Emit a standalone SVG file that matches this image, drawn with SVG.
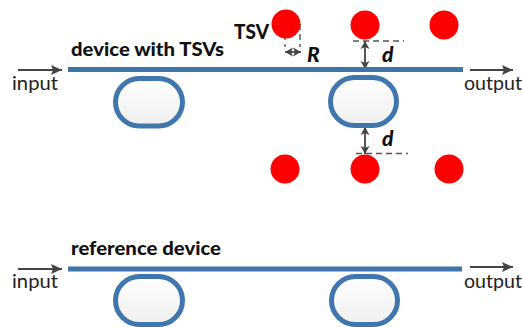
<svg xmlns="http://www.w3.org/2000/svg" width="522" height="327" viewBox="0 0 522 327">
<style>
.wg{stroke:#3f74a8;stroke-width:5;fill:none}
.ring{stroke:#3f76ad;stroke-width:5;fill:url(#rf)}
.tsv{fill:#fe0000}
.lbl{font-family:Lato,"Liberation Sans",sans-serif;font-size:20px;fill:#222}
.b{font-weight:900;fill:#111}
.bi{font-weight:900;font-style:italic;fill:#111;font-size:21px}
.ar{stroke:#444;stroke-width:1.8;fill:none}
.dash{stroke:#555;stroke-width:1.4;stroke-dasharray:6 4;fill:none}
</style>
<defs>
<linearGradient id="rf" x1="0" y1="0" x2="0" y2="1"><stop offset="0" stop-color="#fff"/><stop offset="1" stop-color="#efefef"/></linearGradient>
<marker id="h" markerUnits="userSpaceOnUse" markerWidth="12" markerHeight="12" refX="11" refY="6" orient="auto-start-reverse"><path d="M0 1L11 6L0 11L2 6Z" fill="#444"/></marker>
<marker id="hs" markerUnits="userSpaceOnUse" markerWidth="10" markerHeight="10" refX="8" refY="5" orient="auto-start-reverse"><path d="M0 0.500L8 5L0 9.500L2 5Z" fill="#444"/></marker>
</defs>
<g id="connectors">
<path class="ar" marker-end="url(#h)" d="M18 70H62"/>
<path class="ar" marker-end="url(#h)" d="M470 70H513"/>
<path class="ar" marker-end="url(#h)" d="M18 269H62"/>
<path class="ar" marker-end="url(#h)" d="M470 267H513"/>
<path class="dash" d="M285 24V47M300 24V47"/>
<path class="ar" marker-start="url(#hs)" marker-end="url(#hs)" d="M285 52H301"/>
<path class="dash" d="M353 41H404"/>
<path class="ar" marker-start="url(#hs)" marker-end="url(#hs)" d="M365 41V69"/>
<path class="ar" marker-start="url(#hs)" marker-end="url(#hs)" d="M365 127V154"/>
<path class="dash" d="M356 153.500H408"/>
</g>
<g id="device-waveguide"><path class="wg" d="M68 69.500H463"/></g>
<g id="device-ring-1"><rect class="ring" x="115.500" y="78.500" width="67" height="47.500" rx="23.700"/></g>
<g id="device-ring-2"><rect class="ring" x="330.500" y="77.500" width="66" height="48" rx="24"/></g>
<g id="tsv-1"><circle class="tsv" cx="286" cy="24" r="14.500"/></g>
<g id="tsv-2"><circle class="tsv" cx="365" cy="25" r="14.500"/></g>
<g id="tsv-3"><circle class="tsv" cx="444" cy="25" r="14.500"/></g>
<g id="tsv-4"><circle class="tsv" cx="285" cy="169" r="14.500"/></g>
<g id="tsv-5"><circle class="tsv" cx="365" cy="169" r="14.500"/></g>
<g id="tsv-6"><circle class="tsv" cx="449" cy="169" r="14.500"/></g>
<g id="reference-waveguide"><path class="wg" d="M68 269H462"/></g>
<g id="reference-ring-1"><rect class="ring" x="115.500" y="276.500" width="67" height="48" rx="24"/></g>
<g id="reference-ring-2"><rect class="ring" x="331.500" y="276.500" width="66" height="48" rx="24"/></g>
<g id="labels">
<text class="lbl b" x="71" y="56" textLength="153" lengthAdjust="spacingAndGlyphs" style="font-size:19px">device with TSVs</text>
<text class="lbl b" x="234" y="39" textLength="35" lengthAdjust="spacingAndGlyphs">TSV</text>
<text class="lbl bi" x="307" y="62">R</text>
<text class="lbl bi" x="382" y="62">d</text>
<text class="lbl bi" x="382" y="146">d</text>
<text class="lbl" x="12" y="90" textLength="46" lengthAdjust="spacingAndGlyphs">input</text>
<text class="lbl" x="464" y="90" textLength="58" lengthAdjust="spacingAndGlyphs">output</text>
<text class="lbl b" x="71" y="255" textLength="150" lengthAdjust="spacingAndGlyphs" style="font-size:19px">reference device</text>
<text class="lbl" x="12" y="288" textLength="46" lengthAdjust="spacingAndGlyphs">input</text>
<text class="lbl" x="464" y="288" textLength="58" lengthAdjust="spacingAndGlyphs">output</text>
</g>
</svg>
